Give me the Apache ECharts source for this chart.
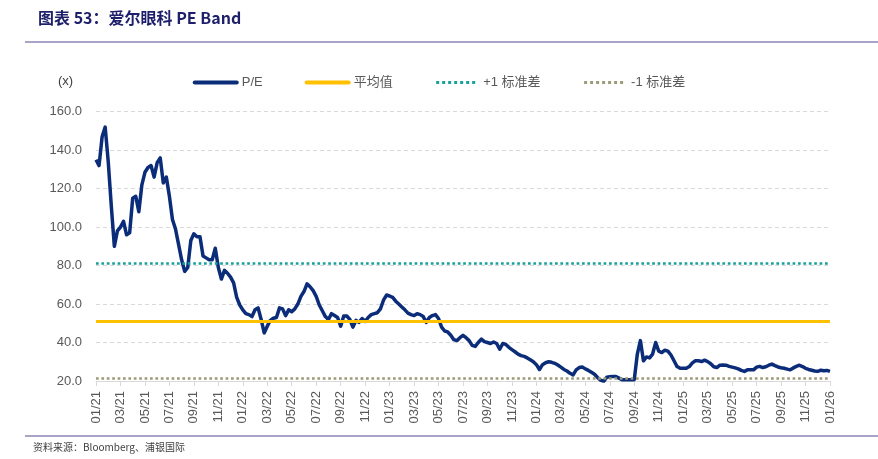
<!DOCTYPE html>
<html>
<head>
<meta charset="utf-8">
<script src="https://cdn.jsdelivr.net/npm/echarts@6/dist/echarts.min.js"></script>
<style>
html,body{margin:0;padding:0;background:#fff;}
#container{width:878px;height:459px;}
</style>
</head>
<body>
<div id="container"></div>
<script>
// P/E, four readings per month
var pe2021=[135,132,147,152,134,111,90,98, 100,103,96,97,115,116,108,122, 128.5,131,132,126,133.5,136,123,126,
    116,104,99,91,83,77,79,93, 96.5,95,95,85,84,83,83,89, 79,73,77.5,76,74,71,63.5,59.5];
var pe2022=[57,55,54.5,53.5,57,58,52,45, 48.5,51.5,52.6,53,58,57.5,54,57, 56,57.5,60,64,66.5,70.5,69,67,
    64,59.5,56.5,53.5,52,55,54,53, 48.5,53.8,53.8,52,48,51.5,50.5,52.5, 51,53,54.5,55,55.5,57.5,62,64.7];
var pe2023=[64.2,63.5,61.5,60,58.5,57,55.3,54.5, 54,55,54.5,53.5,50.5,53,54,54.5, 52.5,48,46,45.5,43.8,41.5,41,42.5,
    43.7,42.5,41,38.5,38,40,41.8,40.5, 40,39.5,40.3,39.5,36.5,39.5,39,37.5, 36.3,35.2,34,33.2,32.8,32,31,30];
var pe2024=[28.5,26,28.5,29.5,30,29.7,29.2,28.3, 27.2,26,25.2,24,23.2,25.8,27,27.3, 26.3,25.5,24.5,23.5,21.8,20.5,19.8,22,
    22.2,22.3,22.3,21.5,20.6,20.6,20.6,20.6, 20.7,34,41,30.5,32.5,32,34,40, 35.5,34.8,36,35.5,33.5,30.5,27.5,26.6];
var pe2025=[26.6,26.6,27.5,29.4,30.5,30.5,30.1,30.8, 30.1,29,27.4,27,28.2,28.3,28.2,27.6, 27.2,26.8,26.3,25.5,25,25.8,25.9,25.8,
    27.2,27.6,27,27.4,28.2,28.8,28,27.3, 26.9,26.6,26.2,25.8,26.8,27.6,28.2,27.5, 26.6,26,25.6,25.2,25,25.6,25.3,25.5];
var pe2026=[25];

var peMean=51.2, peUp=81.0, peDown=21.3;

var tickLabels=['01/21','03/21','05/21','07/21','09/21','11/21',
    '01/22','03/22','05/22','07/22','09/22','11/22',
    '01/23','03/23','05/23','07/23','09/23','11/23',
    '01/24','03/24','05/24','07/24','09/24','11/24',
    '01/25','03/25','05/25','07/25','09/25','11/25','01/26'];
var perTick=8; // 2 months x 4 readings

var peData=[].concat(pe2021,pe2022,pe2023,pe2024,pe2025,pe2026);
var cats=[];
for(var i=0;i<peData.length;i++){
    cats.push(tickLabels[Math.floor(i/perTick)]+'|'+i);
}

var font='"Liberation Sans","Noto Sans CJK SC",sans-serif';
var gray='#595959';
var showTick=function(idx){ return idx%perTick===0; };

var myChart=echarts.init(document.getElementById('container'));
var option={
    animation:false,
    textStyle:{fontFamily:font},
    title:{
        text:'图表 53：爱尔眼科 PE Band',
        left:33, top:5,
        textStyle:{fontSize:16,fontWeight:'bold',color:'#1E1F6B',fontFamily:'"Noto Sans CJK SC",sans-serif'}
    },
    graphic:[
        {type:'line',shape:{x1:25,y1:42,x2:878,y2:42},style:{stroke:'#8B86B5',lineWidth:1.5}},
        {type:'line',shape:{x1:25,y1:436,x2:878,y2:436},style:{stroke:'#8B86B5',lineWidth:1.5}},
        {type:'text',left:58,top:75,style:{text:'(x)',fontSize:13,fill:'#404040',fontFamily:font}},
        {type:'text',left:33,top:442,style:{text:'资料来源：Bloomberg、浦银国际',fontSize:10,fill:'#404040',fontFamily:'"Noto Sans CJK SC",sans-serif'}}
    ],
    legend:{
        top:71, left:'center',
        itemWidth:42, itemHeight:12, itemGap:42,
        itemStyle:{opacity:0},
        textStyle:{fontSize:13,color:gray,fontFamily:font},
        data:[
            {name:'P/E',lineStyle:{width:4,cap:'round'}},
            {name:'平均值',lineStyle:{width:4,cap:'round'}},
            {name:'+1 标准差',lineStyle:{width:3}},
            {name:'-1 标准差',lineStyle:{width:3}}
        ]
    },
    grid:{left:96,right:48,top:111.7,bottom:78},
    xAxis:{
        type:'category',
        boundaryGap:false,
        data:cats,
        axisLine:{lineStyle:{color:'#D9D9D9'}},
        axisTick:{interval:showTick,length:5,lineStyle:{color:'#D9D9D9'}},
        axisLabel:{
            interval:showTick,
            rotate:90,
            margin:10,
            fontSize:13,
            color:gray,
            formatter:function(v){ return v.split('|')[0]; }
        },
        splitLine:{show:false}
    },
    yAxis:{
        type:'value',
        min:20, max:160, interval:20,
        axisLine:{show:false},
        axisTick:{show:false},
        axisLabel:{fontSize:13,color:gray,margin:14,formatter:function(v){ return v.toFixed(1); }},
        splitLine:{lineStyle:{color:'#D9D9D9',type:[4,3]}}
    },
    series:[
        {
            name:'P/E', type:'line', data:peData,
            symbol:'none', showSymbol:false,
            lineStyle:{color:'#0B2C78',width:3.5,join:'round'},
            itemStyle:{color:'#0B2C78'},
            z:2
        },
        {
            name:'平均值', type:'line', data:[],
            symbol:'none',
            lineStyle:{color:'#FFC000',width:3.5},
            itemStyle:{color:'#FFC000'},
            markLine:{silent:true,symbol:'none',label:{show:false},
                lineStyle:{color:'#FFC000',width:3,type:'solid'},
                data:[{yAxis:peMean}]},
            z:3
        },
        {
            name:'+1 标准差', type:'line', data:[],
            symbol:'none',
            lineStyle:{color:'#17A09C',width:2.7,type:'dotted'},
            itemStyle:{color:'#17A09C'},
            markLine:{silent:true,symbol:'none',label:{show:false},
                lineStyle:{color:'#17A09C',width:2.7,type:'dotted'},
                data:[{yAxis:peUp}]},
            z:3
        },
        {
            name:'-1 标准差', type:'line', data:[],
            symbol:'none',
            lineStyle:{color:'#9C9B7A',width:2.7,type:'dotted'},
            itemStyle:{color:'#9C9B7A'},
            markLine:{silent:true,symbol:'none',label:{show:false},
                lineStyle:{color:'#9C9B7A',width:2.7,type:'dotted'},
                data:[{yAxis:peDown}]},
            z:3
        }
    ]
};
myChart.setOption(option);
</script>
</body>
</html>
